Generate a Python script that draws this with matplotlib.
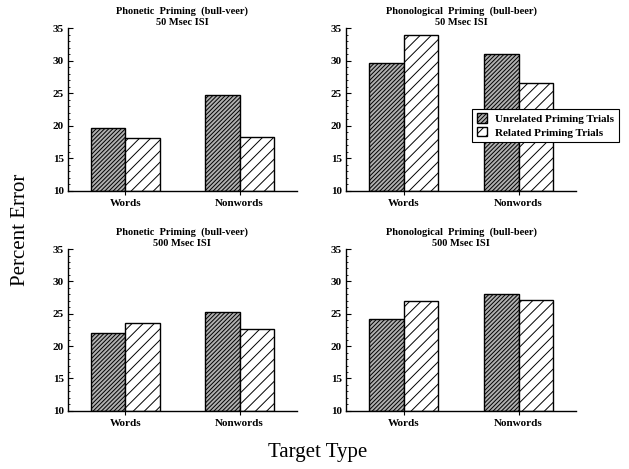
import matplotlib
matplotlib.use('Agg')
import matplotlib.pyplot as plt
from matplotlib.ticker import MultipleLocator
import numpy as np

plt.rcParams['font.family'] = ['Liberation Serif', 'DejaVu Serif']
plt.rcParams['hatch.linewidth'] = 0.7

categories = ['Words', 'Nonwords']
series = ['Unrelated Priming Trials', 'Related Priming Trials']

titles = [
    'Phonetic  Priming  (bull-veer)\n50 Msec ISI',
    'Phonological  Priming  (bull-beer)\n50 Msec ISI',
    'Phonetic  Priming  (bull-veer)\n500 Msec ISI',
    'Phonological  Priming  (bull-beer)\n500 Msec ISI',
]

# percent error per panel: [unrelated, related] for [Words, Nonwords]
unrelated = [
    [19.6, 24.8],
    [29.7, 31.1],
    [22.0, 25.3],
    [24.2, 28.0],
]
related = [
    [18.1, 18.3],
    [34.0, 26.5],
    [23.5, 22.7],
    [27.0, 27.2],
]

fig = plt.figure(figsize=(6.29, 4.69), dpi=100)

# axes boxes in figure fraction: left, bottom, width, height
boxes = [
    [0.108, 0.593, 0.364, 0.347],
    [0.550, 0.593, 0.366, 0.347],
    [0.108, 0.124, 0.364, 0.345],
    [0.550, 0.124, 0.366, 0.345],
]

x = np.arange(len(categories))
w = 0.30

for i in range(4):
    ax = fig.add_axes(boxes[i])
    ax.bar(x - w / 2, np.array(unrelated[i]) - 10, w, bottom=10,
           facecolor='#b0b0b0', edgecolor='black', linewidth=1.0,
           hatch='////////', label=series[0])
    ax.bar(x + w / 2, np.array(related[i]) - 10, w, bottom=10,
           facecolor='white', edgecolor='black', linewidth=1.0,
           hatch='///', label=series[1])
    ax.set_xlim(-0.5, 1.5)
    ax.set_ylim(10, 35)
    ax.set_yticks([10, 15, 20, 25, 30, 35])
    ax.yaxis.set_minor_locator(MultipleLocator(1))
    ax.set_xticks(x)
    ax.set_xticklabels(categories, fontsize=8, fontweight='bold')
    for lab in ax.get_yticklabels():
        lab.set_fontweight('bold')
    ax.tick_params(axis='y', which='major', direction='in', length=3.5,
                   width=0.8, labelsize=8, pad=3)
    ax.tick_params(axis='y', which='minor', direction='in', length=1.5, width=0.6)
    ax.tick_params(axis='x', direction='out', length=3, width=0.8, pad=3)
    for s in ['top', 'right']:
        ax.spines[s].set_visible(False)
    ax.spines['left'].set_linewidth(1.0)
    ax.spines['bottom'].set_linewidth(1.0)
    ax.set_title(titles[i], fontsize=7.5, fontweight='bold', pad=2, linespacing=1.35)
    if i == 1:
        leg = ax.legend(loc='upper left', bbox_to_anchor=(0.548, 0.503),
                        borderaxespad=0, fancybox=False, edgecolor='black',
                        framealpha=1, handlelength=0.9, handleheight=0.9,
                        handletextpad=0.8, borderpad=0.4, labelspacing=0.3,
                        prop={'size': 8, 'weight': 'bold'})
        leg.get_frame().set_linewidth(0.8)

fig.text(0.032, 0.51, 'Percent Error', rotation=90, ha='center', va='center',
         fontsize=15)
fig.text(0.505, 0.036, 'Target Type', ha='center', va='center', fontsize=15)

fig.savefig('out.png', dpi=100)
